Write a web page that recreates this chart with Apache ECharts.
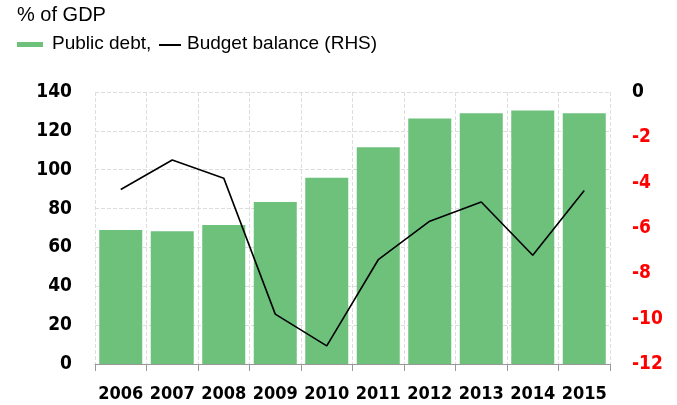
<!DOCTYPE html>
<html><head><meta charset="utf-8">
<script src="https://cdn.jsdelivr.net/npm/echarts@6/dist/echarts.min.js"></script>
<style>html,body{margin:0;padding:0;background:#fff}#c{width:677px;height:405px}</style>
</head><body><div id="c"></div>
<script>
const years = ['2006','2007','2008','2009','2010','2011','2012','2013','2014','2015'];
const publicDebt = [69.0, 68.3, 71.5, 83.4, 95.9, 111.5, 126.3, 129.0, 130.5, 129.0];
const budgetBalance = [-4.3, -3.0, -3.8, -9.8, -11.2, -7.4, -5.7, -4.85, -7.2, -4.35];
const leftTicks = {min: 0, max: 140, interval: 20};
const rightTicks = {min: -12, max: 0, interval: 2};
const titleText = '% of GDP';
const debtLabel = 'Public debt,';
const balanceLabel = 'Budget balance (RHS)';

const tickFont = '"DejaVu Sans Condensed", "Liberation Sans Narrow", sans-serif';
const textFont = '19px "Liberation Sans", Arial, sans-serif';
const chart = echarts.init(document.getElementById('c'));
chart.setOption({
  animation: false,
  grid: {left: 95, right: 67, top: 92, bottom: 41},
  graphic: [
    {type: 'text', left: 17, top: 5, style: {text: titleText, font: '20px "Liberation Sans", Arial, sans-serif', fill: '#000'}},
    {type: 'rect', shape: {x: 17, y: 42, width: 26, height: 5}, style: {fill: '#6DC17B'}},
    {type: 'text', left: 52, top: 34, style: {text: debtLabel, font: textFont, fill: '#000'}},
    {type: 'rect', shape: {x: 159, y: 44, width: 22, height: 2}, style: {fill: '#000'}},
    {type: 'text', left: 187, top: 34, style: {text: balanceLabel, font: textFont, fill: '#000'}}
  ],
  xAxis: {
    type: 'category', data: years,
    axisLine: {lineStyle: {color: '#999', width: 1}},
    axisTick: {show: true, length: 7, lineStyle: {color: '#999'}},
    axisLabel: {interval: 0, margin: 21, fontFamily: tickFont, fontWeight: 'bold', fontSize: 18, color: '#000'},
    splitLine: {show: true, lineStyle: {color: '#ddd', type: 'dashed'}}
  },
  yAxis: [
    {type: 'value', min: leftTicks.min, max: leftTicks.max, interval: leftTicks.interval,
     axisLine: {show: false}, axisTick: {show: false},
     axisLabel: {margin: 23, fontFamily: tickFont, fontWeight: 'bold', fontSize: 19, color: '#000'},
     splitLine: {show: true, lineStyle: {color: '#ddd', type: 'dashed'}}},
    {type: 'value', position: 'right', min: rightTicks.min, max: rightTicks.max, interval: rightTicks.interval,
     axisLine: {show: false}, axisTick: {show: false},
     axisLabel: {margin: 22, fontFamily: tickFont, fontWeight: 'bold', fontSize: 19,
       color: function (v) { return Number(v) === 0 ? '#000' : '#FF0000'; }},
     splitLine: {show: false}}
  ],
  series: [
    {name: debtLabel, type: 'bar', yAxisIndex: 0, data: publicDebt, barWidth: 43,
     itemStyle: {color: '#6DC17B'}},
    {name: balanceLabel, type: 'line', yAxisIndex: 1, data: budgetBalance,
     symbol: 'none', lineStyle: {color: '#000', width: 1.6}}
  ]
});
</script></body></html>
